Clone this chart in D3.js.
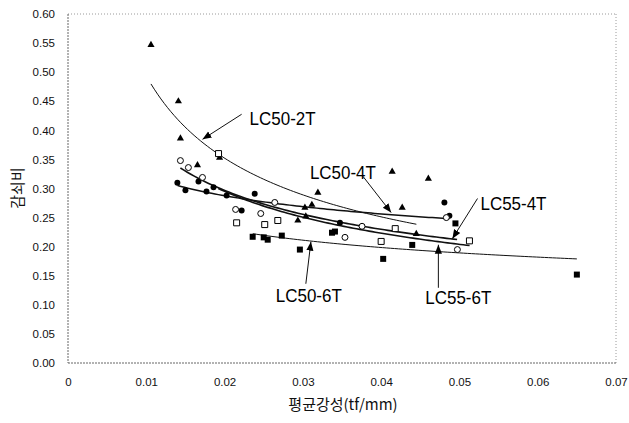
<!DOCTYPE html>
<html><head><meta charset="utf-8">
<script src="https://cdn.jsdelivr.net/npm/d3@7"></script>
<style>
html,body{margin:0;padding:0;background:#fff;}
svg text{font-family:"Liberation Sans",Arial,sans-serif;}
</style></head>
<body>
<svg id="chart" width="629" height="423"></svg>
<script>
// ---- data ----
const xTicks = [0, 0.01, 0.02, 0.03, 0.04, 0.05, 0.06, 0.07];
const xTickLabels = ["0", "0.01", "0.02", "0.03", "0.04", "0.05", "0.06", "0.07"];
const yTicks = [0, 0.05, 0.10, 0.15, 0.20, 0.25, 0.30, 0.35, 0.40, 0.45, 0.50, 0.55, 0.60];
const seriesNames = ["LC50-2T", "LC50-4T", "LC55-4T", "LC50-6T", "LC55-6T"];

const lc50_2T_x = [0.0106, 0.0141, 0.01436, 0.01654, 0.01936, 0.02936, 0.03038, 0.03026, 0.03115, 0.03192, 0.04141, 0.04603, 0.04269, 0.04449];
const lc50_2T_y = [0.547, 0.450, 0.386, 0.340, 0.353, 0.245, 0.252, 0.267, 0.272, 0.293, 0.329, 0.317, 0.267, 0.222];

const lc50_4T_x = [0.01397, 0.0150, 0.01667, 0.01769, 0.01859, 0.02026, 0.02218, 0.02385, 0.03474, 0.04808, 0.04872];
const lc50_4T_y = [0.310, 0.297, 0.312, 0.295, 0.302, 0.288, 0.262, 0.291, 0.241, 0.276, 0.253];

const lc55_4T_x = [0.01436, 0.01538, 0.01718, 0.02141, 0.02462, 0.02641, 0.03538, 0.03756, 0.04833, 0.04974];
const lc55_4T_y = [0.348, 0.336, 0.319, 0.264, 0.257, 0.276, 0.216, 0.235, 0.250, 0.195];

const lc50_6T_x = [0.02359, 0.0250, 0.02551, 0.02731, 0.02962, 0.03372, 0.0341, 0.04026, 0.04397, 0.04949, 0.0650];
const lc50_6T_y = [0.217, 0.216, 0.212, 0.219, 0.195, 0.224, 0.226, 0.179, 0.203, 0.240, 0.152];

const lc55_6T_x = [0.01923, 0.02154, 0.02513, 0.0268, 0.0400, 0.0418, 0.05128];
const lc55_6T_y = [0.360, 0.241, 0.238, 0.245, 0.209, 0.231, 0.210];

// power trend lines  y = a * x^b, drawn over [from, to]
const trendA = [0.0524, 0.1502, 0.0702, 0.0997, 0.0610];
const trendB = [-0.487, -0.166, -0.3685, -0.214, -0.403];
const trendFrom = [0.0106, 0.0140, 0.01436, 0.0236, 0.0192];
const trendTo = [0.0445, 0.0487, 0.0497, 0.0650, 0.0513];

// ---- drawing ----
const svg = d3.select("#chart");
const x = d3.scaleLinear().domain([0, 0.07]).range([68, 616]);
const y = d3.scaleLinear().domain([0, 0.6]).range([363, 14]);

const xs = [lc50_2T_x, lc50_4T_x, lc55_4T_x, lc50_6T_x, lc55_6T_x];
const ys = [lc50_2T_y, lc50_4T_y, lc55_4T_y, lc50_6T_y, lc55_6T_y];
const markerType = [d3.symbolTriangle, d3.symbolCircle, d3.symbolCircle, d3.symbolSquare, d3.symbolSquare];
const markerSize = [22, 28, 28, 36, 36];
const markerFilled = [true, true, false, true, false];
const lineWidth = [1, 1.5, 1.6, 1, 1.6];

// frame
const frame = svg.append("g");
frame.append("line").attr("x1", x(0)).attr("x2", x(0.07)).attr("y1", y(0.6)).attr("y2", y(0.6))
  .attr("stroke", "#9a9a9a").attr("stroke-width", 1).attr("stroke-dasharray", "1,2");
frame.append("line").attr("x1", x(0.07)).attr("x2", x(0.07)).attr("y1", y(0.6)).attr("y2", y(0))
  .attr("stroke", "#9a9a9a").attr("stroke-width", 1).attr("stroke-dasharray", "1,2");
frame.append("line").attr("x1", x(0)).attr("x2", x(0)).attr("y1", y(0.6)).attr("y2", y(0))
  .attr("stroke", "#666").attr("stroke-width", 1).attr("stroke-dasharray", "2,1");
frame.append("line").attr("x1", x(0)).attr("x2", x(0.07)).attr("y1", y(0)).attr("y2", y(0))
  .attr("stroke", "#666").attr("stroke-width", 1).attr("stroke-dasharray", "2,1");

// axes
const yAxis = d3.axisLeft(y).tickValues(yTicks).tickFormat(d3.format(".2f")).tickSize(0).tickPadding(13);
const gy = svg.append("g").attr("transform", `translate(${x(0)},0)`).call(yAxis);
gy.select(".domain").remove();
gy.selectAll("text").attr("font-size", 11.5).attr("fill", "#111")
  .style("font-family", '"Liberation Sans", Arial, sans-serif');

const xAxis = d3.axisBottom(x).tickValues(xTicks).tickFormat((d, i) => xTickLabels[i]).tickSize(0).tickPadding(15);
const gx = svg.append("g").attr("transform", `translate(0,${y(0)})`).call(xAxis);
gx.select(".domain").remove();
gx.selectAll("text").attr("font-size", 11.5).attr("fill", "#111")
  .style("font-family", '"Liberation Sans", Arial, sans-serif');

// axis titles
svg.append("text").attr("x", 343).attr("y", 410).attr("text-anchor", "middle")
  .attr("font-size", 15).attr("fill", "#111")
  .style("font-family", '"Noto Sans CJK KR", "Liberation Sans", sans-serif')
  .text("평균강성(tf/mm)");
svg.append("text").attr("transform", "translate(23,188) rotate(-90)").attr("text-anchor", "middle")
  .attr("font-size", 15).attr("fill", "#111")
  .style("font-family", '"Noto Sans CJK KR", sans-serif')
  .text("감쇠비");

// trend lines
const line = d3.line().x(d => x(d[0])).y(d => y(d[1]));
seriesNames.forEach((name, i) => {
  const n = 80;
  const pts = d3.range(n + 1).map(k => {
    const xv = trendFrom[i] + (trendTo[i] - trendFrom[i]) * k / n;
    return [xv, trendA[i] * Math.pow(xv, trendB[i])];
  });
  svg.append("path").datum(pts).attr("d", line)
    .attr("fill", "none").attr("stroke", "#111").attr("stroke-width", lineWidth[i]);
});

// markers
seriesNames.forEach((name, i) => {
  const pts = xs[i].map((v, k) => [v, ys[i][k]]);
  svg.append("g").selectAll("path").data(pts).join("path")
    .attr("transform", d => `translate(${x(d[0])},${y(d[1])})`)
    .attr("d", d3.symbol().type(markerType[i]).size(markerSize[i]))
    .attr("fill", markerFilled[i] ? "#000" : "#fff")
    .attr("stroke", "#000").attr("stroke-width", markerFilled[i] ? 0 : 1);
});

// annotations (data coordinates)
const annotations = [
  {name: "LC50-2T", lx: 0.0232, ly: 0.410, sx: 0.02218, sy: 0.4276, tx: 0.01718, ty: 0.3845},
  {name: "LC50-4T", lx: 0.0309, ly: 0.3155, sx: 0.03769, sy: 0.3207, tx: 0.04128, ty: 0.2586},
  {name: "LC55-4T", lx: 0.05269, ly: 0.2638, sx: 0.05231, sy: 0.2828, tx: 0.0491, ty: 0.2138},
  {name: "LC55-6T", lx: 0.04564, ly: 0.1017, sx: 0.04731, sy: 0.1293, tx: 0.04731, ty: 0.2034},
  {name: "LC50-6T", lx: 0.02654, ly: 0.1052, sx: 0.03038, sy: 0.1362, tx: 0.03103, ty: 0.2086}
];
svg.append("defs").append("marker").attr("id", "ah").attr("viewBox", "0 0 10 10")
  .attr("refX", 10).attr("refY", 5).attr("markerWidth", 9).attr("markerHeight", 9)
  .attr("markerUnits", "userSpaceOnUse").attr("orient", "auto")
  .append("path").attr("d", "M0,1 L10,5 L0,9 Z").attr("fill", "#000");
annotations.forEach(a => {
  svg.append("line").attr("x1", x(a.sx)).attr("y1", y(a.sy)).attr("x2", x(a.tx)).attr("y2", y(a.ty))
    .attr("stroke", "#111").attr("stroke-width", 1).attr("marker-end", "url(#ah)");
  svg.append("text").attr("x", x(a.lx)).attr("y", y(a.ly))
    .attr("font-size", 18.5).attr("fill", "#000")
    .attr("textLength", 66).attr("lengthAdjust", "spacingAndGlyphs")
    .text(a.name);
});
</script>
</body></html>
